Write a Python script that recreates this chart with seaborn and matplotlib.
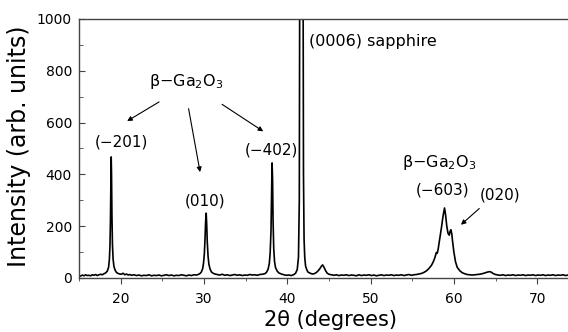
import matplotlib
matplotlib.use("Agg")
import matplotlib.pyplot as plt
import seaborn as sns
import pandas as pd
from matplotlib.ticker import MultipleLocator

# ---- data (2theta in degrees, intensity in arb. units) ----
two_theta = [
    15.0, 15.2, 15.4, 15.6, 15.8, 16.0, 16.2, 16.4, 16.6, 16.8, 17.0, 17.2, 17.4, 17.6, 17.8,
    18.0, 18.2, 18.4, 18.55, 18.65, 18.72, 18.78, 18.83, 18.87, 18.91, 18.96, 19.02, 19.1, 19.2,
    19.35, 19.5, 19.7, 19.9, 20.1, 20.3, 20.5, 20.7, 20.9, 21.1, 21.3, 21.6, 21.9, 22.2, 22.5,
    22.8, 23.1, 23.4, 23.7, 24.0, 24.3, 24.6, 24.9, 25.2, 25.5, 25.8, 26.1, 26.4, 26.7, 27.0,
    27.3, 27.6, 27.9, 28.2, 28.5, 28.8, 29.1, 29.3, 29.5, 29.7, 29.85, 29.95, 30.05, 30.13,
    30.2, 30.27, 30.33, 30.4, 30.5, 30.6, 30.75, 30.9, 31.1, 31.3, 31.6, 31.9, 32.2, 32.5,
    32.8, 33.1, 33.4, 33.7, 34.0, 34.3, 34.6, 34.9, 35.2, 35.5, 35.8, 36.1, 36.4, 36.7, 37.0,
    37.3, 37.5, 37.7, 37.85, 37.95, 38.05, 38.12, 38.18, 38.24, 38.3, 38.38, 38.48, 38.6,
    38.8, 39.0, 39.3, 39.6, 39.9, 40.2, 40.5, 40.8, 41.0, 41.2, 41.35, 41.45, 41.5, 41.55,
    41.85, 41.9, 41.95, 42.02, 42.1, 42.2, 42.35, 42.5, 42.7, 42.9, 43.1, 43.3, 43.5, 43.7,
    43.9, 44.1, 44.25, 44.4, 44.6, 44.8, 45.0, 45.3, 45.6, 45.9, 46.2, 46.5, 46.8, 47.1,
    47.4, 47.7, 48.0, 48.3, 48.6, 48.9, 49.2, 49.5, 49.8, 50.1, 50.4, 50.7, 51.0, 51.3,
    51.6, 51.9, 52.2, 52.5, 52.8, 53.1, 53.4, 53.7, 54.0, 54.3, 54.6, 54.9, 55.2, 55.5,
    55.8, 56.1, 56.4, 56.7, 57.0, 57.3, 57.5, 57.7, 57.9, 58.0, 58.1, 58.3, 58.5, 58.7,
    58.88, 59.0, 59.15, 59.3, 59.45, 59.55, 59.65, 59.75, 59.85, 60.0, 60.2, 60.4, 60.7,
    61.0, 61.3, 61.6, 61.9, 62.2, 62.5, 62.8, 63.1, 63.4, 63.7, 63.9, 64.1, 64.3, 64.5,
    64.7, 65.0, 65.3, 65.6, 65.9, 66.2, 66.5, 66.8, 67.1, 67.4, 67.7, 68.0, 68.3, 68.6,
    68.9, 69.2, 69.5, 69.8, 70.1, 70.4, 70.7, 71.0, 71.3, 71.6, 71.9, 72.2, 72.5, 72.8,
    73.1, 73.4, 73.7,
]
intensity = [
    9, 7, 11, 8, 12, 9, 10, 8, 12, 10, 13, 9, 12, 14, 12,
    16, 19, 26, 40, 70, 120, 220, 380, 467, 400, 240, 130, 72, 44,
    29, 21, 17, 15, 14, 18, 12, 15, 11, 13, 10, 12, 9, 11, 8,
    10, 9, 12, 8, 10, 9, 11, 8, 10, 12, 9, 11, 8, 10, 9,
    12, 10, 8, 11, 9, 12, 11, 13, 16, 23, 36, 56, 92, 150,
    215, 250, 210, 140, 82, 52, 33, 23, 18, 15, 13, 11, 14, 10,
    12, 9, 11, 13, 10, 12, 9, 11, 10, 13, 11, 12, 10, 13, 14,
    16, 21, 33, 56, 96, 180, 320, 444, 380, 220, 112, 62, 39,
    26, 19, 15, 12, 10, 11, 9, 13, 18, 32, 80, 300, 1200, 3000,
    3000, 1200, 400, 150, 80, 46, 31, 22, 19, 16, 15, 17, 21, 27,
    35, 45, 50, 42, 28, 18, 14, 12, 10, 12, 9, 11, 10, 12,
    9, 11, 10, 8, 12, 9, 11, 10, 12, 9, 11, 8, 10, 12,
    9, 11, 10, 12, 9, 11, 10, 12, 9, 11, 13, 10, 12, 13,
    15, 17, 21, 27, 36, 48, 60, 76, 98, 95, 108, 150, 192, 238,
    270, 245, 200, 172, 165, 180, 186, 170, 140, 100, 62, 41, 28,
    20, 16, 13, 12, 11, 12, 13, 14, 16, 19, 21, 23, 24, 22,
    17, 13, 11, 10, 12, 9, 11, 10, 12, 9, 11, 10, 12, 9,
    11, 10, 12, 9, 11, 10, 12, 9, 11, 10, 12, 9, 11, 10,
    12, 9, 11,
]

x_ticks = [20, 30, 40, 50, 60, 70]
y_ticks = [0, 200, 400, 600, 800, 1000]

df = pd.DataFrame({"two_theta": two_theta, "intensity": intensity})

sns.set_style("ticks")
plt.rcParams["font.family"] = ["DejaVu Sans"]
plt.rcParams["mathtext.fontset"] = "dejavusans"
plt.rcParams["mathtext.default"] = "regular"
plt.rcParams["text.color"] = "black"
plt.rcParams["axes.labelcolor"] = "black"
plt.rcParams["xtick.labelcolor"] = "black"
plt.rcParams["ytick.labelcolor"] = "black"

fig = plt.figure(figsize=(5.68, 3.32), dpi=100)
ax = fig.add_axes([0.139, 0.163, 0.861, 0.78])

sns.lineplot(data=df, x="two_theta", y="intensity", ax=ax, color="black",
             linewidth=1.2, estimator=None, sort=False)

ax.set_xlim(15, 73.7)
ax.set_ylim(0, 1000)
ax.set_xticks(x_ticks)
ax.set_yticks(y_ticks)
ax.xaxis.set_minor_locator(MultipleLocator(5))
ax.yaxis.set_minor_locator(MultipleLocator(100))
ax.tick_params(axis="y", which="both", direction="in", labelsize=10, length=4.5,
               color="#444444", labelcolor="black", pad=5)
ax.tick_params(axis="y", which="minor", length=3)
ax.tick_params(axis="x", which="both", direction="out", labelsize=10, length=4,
               color="#444444", labelcolor="black", pad=6)
ax.tick_params(axis="x", which="minor", length=2.5)

for side in ["left", "bottom", "top"]:
    ax.spines[side].set_color("#444444")
    ax.spines[side].set_linewidth(1.0)
ax.spines["right"].set_visible(False)

ax.set_xlabel("2θ (degrees)", fontsize=15, color="black")
ax.set_ylabel("Intensity (arb. units)", fontsize=17, color="black")
ax.xaxis.set_label_coords(0.515, -0.125)
ax.yaxis.set_label_coords(-0.098, 0.51)

fs = 11.5
arrow = dict(arrowstyle="-|>", color="black", lw=0.8, mutation_scale=7)
ax.text(27.9, 757, "β−Ga$_2$O$_3$", fontsize=fs, ha="center", va="center")
ax.annotate("", xy=(20.5, 600), xytext=(24.9, 685), arrowprops=arrow)
ax.annotate("", xy=(29.6, 398), xytext=(28.1, 664), arrowprops=arrow)
ax.annotate("", xy=(37.4, 560), xytext=(31.9, 676), arrowprops=arrow)
ax.text(20.1, 526, "(−201)", fontsize=11, ha="center", va="center")
ax.text(30.1, 298, "(010)", fontsize=11, ha="center", va="center")
ax.text(38.1, 494, "(−402)", fontsize=11, ha="center", va="center")
ax.text(42.6, 912, "(0006) sapphire", fontsize=fs, ha="left", va="center")
ax.text(58.25, 444, "β−Ga$_2$O$_3$", fontsize=fs, ha="center", va="center")
ax.text(58.7, 340, "(−603)", fontsize=11, ha="center", va="center")
ax.text(65.5, 320, "(020)", fontsize=11, ha="center", va="center")
ax.annotate("", xy=(60.6, 198), xytext=(63.3, 275), arrowprops=arrow)

fig.savefig("out.png", dpi=100)
